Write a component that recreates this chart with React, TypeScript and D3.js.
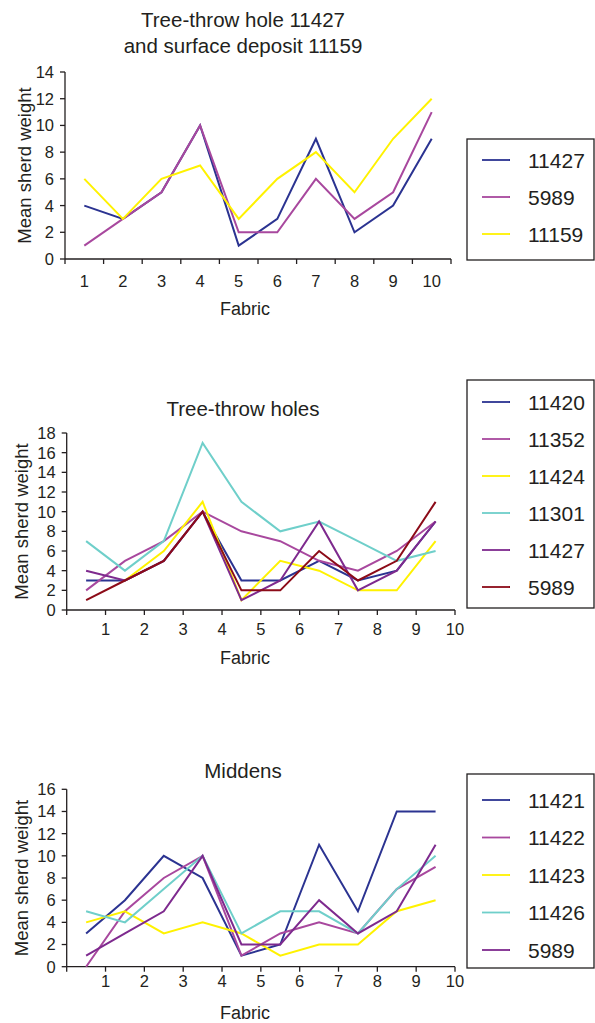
import * as d3 from 'd3'

// fabric categories 1..10
const fabrics = [1, 2, 3, 4, 5, 6, 7, 8, 9, 10]

// chart 1: tree-throw hole 11427 and surface deposit 11159
const c1_11427 = [4, 3, 5, 10, 1, 3, 9, 2, 4, 9]
const c1_5989 = [1, 3, 5, 10, 2, 2, 6, 3, 5, 11]
const c1_11159 = [6, 3, 6, 7, 3, 6, 8, 5, 9, 12]

// chart 2: tree-throw holes (11424 has no fabric 1 value)
const c2_11420 = [3, 3, 5, 10, 3, 3, 5, 3, 4, 9]
const c2_11352 = [2, 5, 7, 10, 8, 7, 5, 4, 6, 9]
const c2_11424 = [null, 3, 6, 11, 1, 5, 4, 2, 2, 7]
const c2_11301 = [7, 4, 7, 17, 11, 8, 9, 7, 5, 6]
const c2_11427 = [4, 3, 5, 10, 1, 3, 9, 2, 4, 9]
const c2_5989 = [1, 3, 5, 10, 2, 2, 6, 3, 5, 11]

// chart 3: middens
const c3_11421 = [3, 6, 10, 8, 1, 2, 11, 5, 14, 14]
const c3_11422 = [0, 5, 8, 10, 1, 3, 4, 3, 7, 9]
const c3_11423 = [4, 5, 3, 4, 3, 1, 2, 2, 5, 6]
const c3_11426 = [5, 4, 7, 10, 3, 5, 5, 3, 7, 10]
const c3_5989 = [1, 3, 5, 10, 2, 2, 6, 3, 5, 11]

const BLUE = '#2b3391'
const MAGENTA = '#a8489e'
const YELLOW = '#fff200'
const CYAN = '#6fcfca'
const PURPLE = '#7e2a8e'
const RED = '#8c0b18'
const INK = '#231f20'
const FONT = '"Liberation Sans", Arial, Helvetica, sans-serif'

type Series = { name: string; values: (number | null)[]; color: string }

type ChartProps = {
    title: string[]
    titleY: number
    series: Series[]
    yMax: number
    top: number
    bottom: number
    left: number
    right: number
    // 'band': labels between ticks (chart 1); 'edge': labels on ticks, points between
    mode: 'band' | 'edge'
    labelY: number
    fabricY: number
    yTitleX: number
    legendTop: number
    legendBottom: number
    legendFirst: number
    legendStep: number
}

function Chart(props: ChartProps) {
    const { series, yMax, top, bottom, left, right, mode } = props

    const x =
        mode === 'band'
            ? d3.scaleLinear().domain([0.5, 10.5]).range([left, right])
            : d3.scaleLinear().domain([0, 10]).range([left, right])
    const px = (f: number) => (mode === 'band' ? x(f) : x(f - 0.5))
    const tickVals = mode === 'band' ? d3.range(0.5, 11, 1) : d3.range(0, 11, 1)

    const y = d3.scaleLinear().domain([0, yMax]).range([bottom, top])
    const yTicks = d3.range(0, yMax + 1, 2)

    const line = d3
        .line<number | null>()
        .defined((d) => d != null)
        .x((d, i) => px(fabrics[i]))
        .y((d) => y(d as number))

    const midY = (top + bottom) / 2

    return (
        <g fontFamily={FONT} fill={INK}>
            {props.title.map((t, i) => (
                <text key={t} x={243} y={props.titleY + i * 26} fontSize={20.5} textAnchor="middle">
                    {t}
                </text>
            ))}

            {/* y axis */}
            <line x1={left} x2={left} y1={y(0)} y2={y(yMax)} stroke={INK} strokeWidth={1.3} />
            {yTicks.map((t) => (
                <g key={t}>
                    <line x1={left - 5} x2={left} y1={y(t)} y2={y(t)} stroke={INK} strokeWidth={1.3} />
                    <text x={left - 11} y={y(t)} dy="0.36em" fontSize={16.5} textAnchor="end">
                        {t}
                    </text>
                </g>
            ))}
            <text
                transform={`translate(${props.yTitleX},${midY}) rotate(-90)`}
                fontSize={18.5}
                textAnchor="middle"
            >
                Mean sherd weight
            </text>

            {/* x axis */}
            <line x1={left} x2={right} y1={bottom} y2={bottom} stroke={INK} strokeWidth={1.3} />
            {tickVals.map((t) => (
                <line key={t} x1={x(t)} x2={x(t)} y1={bottom} y2={bottom + 5} stroke={INK} strokeWidth={1.3} />
            ))}
            {fabrics.map((f) => (
                <text key={f} x={x(f)} y={props.labelY} fontSize={16.5} textAnchor="middle">
                    {f}
                </text>
            ))}
            <text x={245} y={props.fabricY} fontSize={18} textAnchor="middle">
                Fabric
            </text>

            {/* lines */}
            {series.map((s) => (
                <path key={s.name} d={line(s.values) ?? ''} fill="none" stroke={s.color} strokeWidth={2} />
            ))}

            {/* legend */}
            <rect
                x={467}
                y={props.legendTop}
                width={127}
                height={props.legendBottom - props.legendTop}
                fill="none"
                stroke={INK}
                strokeWidth={1.3}
            />
            {series.map((s, i) => {
                const ly = props.legendFirst + i * props.legendStep
                return (
                    <g key={s.name}>
                        <line x1={482} x2={510} y1={ly} y2={ly} stroke={s.color} strokeWidth={1.8} />
                        <text x={528} y={ly} dy="0.36em" fontSize={21}>
                            {s.name}
                        </text>
                    </g>
                )
            })}
        </g>
    )
}

export default function App() {
    return (
        <svg
            width={595}
            height={1023}
            style={{ position: 'absolute', left: 0, top: 0, background: '#fff' }}
        >
            <rect width={595} height={1023} fill="#fff" />
            <Chart
                title={['Tree-throw hole 11427', 'and surface deposit 11159']}
                titleY={27}
                series={[
                    { name: '11427', values: c1_11427, color: BLUE },
                    { name: '5989', values: c1_5989, color: MAGENTA },
                    { name: '11159', values: c1_11159, color: YELLOW },
                ]}
                yMax={14}
                top={72}
                bottom={259}
                left={65}
                right={451}
                mode="band"
                labelY={287}
                fabricY={315}
                yTitleX={31}
                legendTop={139}
                legendBottom={260}
                legendFirst={160}
                legendStep={37}
            />
            <Chart
                title={['Tree-throw holes']}
                titleY={416}
                series={[
                    { name: '11420', values: c2_11420, color: BLUE },
                    { name: '11352', values: c2_11352, color: MAGENTA },
                    { name: '11424', values: c2_11424, color: YELLOW },
                    { name: '11301', values: c2_11301, color: CYAN },
                    { name: '11427', values: c2_11427, color: PURPLE },
                    { name: '5989', values: c2_5989, color: RED },
                ]}
                yMax={18}
                top={433}
                bottom={610}
                left={66.7}
                right={455}
                mode="edge"
                labelY={635}
                fabricY={664}
                yTitleX={28}
                legendTop={380}
                legendBottom={608}
                legendFirst={402}
                legendStep={37}
            />
            <Chart
                title={['Middens']}
                titleY={778}
                series={[
                    { name: '11421', values: c3_11421, color: BLUE },
                    { name: '11422', values: c3_11422, color: MAGENTA },
                    { name: '11423', values: c3_11423, color: YELLOW },
                    { name: '11426', values: c3_11426, color: CYAN },
                    { name: '5989', values: c3_5989, color: PURPLE },
                ]}
                yMax={16}
                top={789.3}
                bottom={966.7}
                left={66.7}
                right={455}
                mode="edge"
                labelY={987}
                fabricY={1019}
                yTitleX={28}
                legendTop={774}
                legendBottom={968}
                legendFirst={800}
                legendStep={37.5}
            />
        </svg>
    )
}
